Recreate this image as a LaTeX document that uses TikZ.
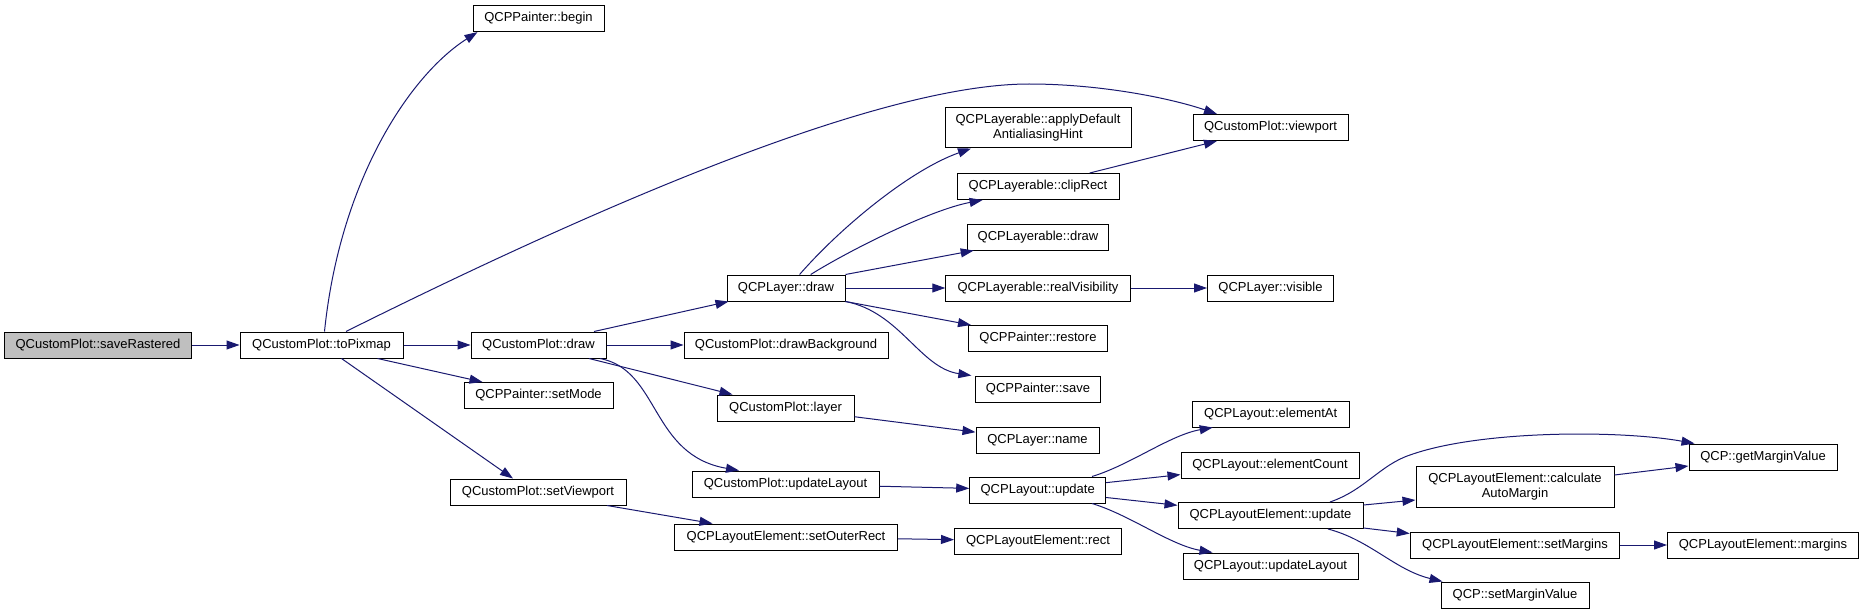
\documentclass[tikz,border=0pt]{standalone}
\usepackage{fontspec}
\setmainfont{Liberation Sans}
\usetikzlibrary{arrows.meta}
\definecolor{edgeblue}{HTML}{191970}
\definecolor{rootgray}{HTML}{BFBFBF}
\begin{document}
\begin{tikzpicture}[x=1pt,y=-1pt,
  box/.style={draw=black, line width=1pt, rectangle, inner sep=0pt, minimum height=26pt,
    font=\fontsize{13}{15}\selectfont, align=center, fill=white},
  e/.style={draw=edgeblue, line width=1pt, -{Triangle[length=13pt,width=9pt]}}]
\fill[white] (0,0) rectangle (1864,615);
\useasboundingbox (0,0) rectangle (1864,615);
% rank 0-1
\node[box, minimum width=187pt, fill=rootgray] (sr) at (98,345) {QCustomPlot::saveRastered};
\node[box, minimum width=163pt] (tp) at (321.5,345) {QCustomPlot::toPixmap};
% rank 2
\node[box, minimum width=131pt] (begin) at (538.5,18.6) {QCPPainter::begin};
\node[box, minimum width=135pt] (cpdraw) at (538.5,345) {QCustomPlot::draw};
\node[box, minimum width=149pt] (setMode) at (538.5,395.5) {QCPPainter::setMode};
\node[box, minimum width=176pt] (setViewport) at (538,492) {QCustomPlot::setViewport};
% rank 3
\node[box, minimum width=118pt] (ldraw) at (786,288) {QCPLayer::draw};
\node[box, minimum width=204pt] (drawBg) at (786,345) {QCustomPlot::drawBackground};
\node[box, minimum width=137pt] (layer) at (785.5,408) {QCustomPlot::layer};
\node[box, minimum width=187pt] (cpUpd) at (785.5,484) {QCustomPlot::updateLayout};
\node[box, minimum width=223pt] (setOuter) at (786,537) {QCPLayoutElement::setOuterRect};
% rank 4
\node[box, minimum width=186pt, minimum height=40pt] (applyDef) at (1038,128) {QCPLayerable::applyDefault\\AntialiasingHint};
\node[box, minimum width=162pt] (clipRect) at (1038,186.5) {QCPLayerable::clipRect};
\node[box, minimum width=141.5pt] (lbdraw) at (1038,237) {QCPLayerable::draw};
\node[box, minimum width=184.5pt] (realVis) at (1038,288) {QCPLayerable::realVisibility};
\node[box, minimum width=139.6pt] (restore) at (1038,338.5) {QCPPainter::restore};
\node[box, minimum width=125pt] (save) at (1038,389) {QCPPainter::save};
\node[box, minimum width=123pt] (name) at (1037.5,440) {QCPLayer::name};
\node[box, minimum width=136pt] (lupdate) at (1037.7,490) {QCPLayout::update};
\node[box, minimum width=167pt] (rect) at (1038,541) {QCPLayoutElement::rect};
% rank 5
\node[box, minimum width=155pt] (viewport) at (1270.5,127.5) {QCustomPlot::viewport};
\node[box, minimum width=126pt] (visible) at (1270.5,288) {QCPLayer::visible};
\node[box, minimum width=156.6pt] (elementAt) at (1270.7,414) {QCPLayout::elementAt};
\node[box, minimum width=178pt] (elementCount) at (1270,465) {QCPLayout::elementCount};
\node[box, minimum width=185pt] (leUpdate) at (1270.5,515.5) {QCPLayoutElement::update};
\node[box, minimum width=175pt] (lUpdLayout) at (1270.5,566) {QCPLayout::updateLayout};
% rank 6
\node[box, minimum width=198pt, minimum height=41pt] (calcAuto) at (1515,486.5) {QCPLayoutElement::calculate\\AutoMargin};
\node[box, minimum width=209.5pt] (setMargins) at (1515,545) {QCPLayoutElement::setMargins};
\node[box, minimum width=148pt] (setMarginValue) at (1515,595) {QCP::setMarginValue};
% rank 7
\node[box, minimum width=148pt] (getMargin) at (1763,457) {QCP::getMarginValue};
\node[box, minimum width=191pt] (margins) at (1763,545) {QCPLayoutElement::margins};
% edges
\draw[e] (sr) -- (tp);
\draw[e] ([xshift=3pt]tp.north) .. controls (340,180) and (410,75) .. ([xshift=5pt]begin.south west);
\draw[e] ([xshift=24.5pt]tp.north) .. controls (600,205) and (880,84) .. (1029,84)
   .. controls (1100,84) and (1170,98) .. ([xshift=-53.5pt]viewport.north);
\draw[e] (tp) -- (cpdraw);
\draw[e] ([xshift=56pt]tp.south) -- ([xshift=-56pt]setMode.north);
\draw[e] ([xshift=20pt]tp.south) -- ([xshift=-25pt]setViewport.north);
\draw[e] ([xshift=55.5pt]cpdraw.north) -- ([xshift=2pt]ldraw.south west);
\draw[e] (cpdraw) -- (drawBg);
\draw[e] ([xshift=50.5pt]cpdraw.south) -- ([xshift=-53pt]layer.north);
\draw[e] ([xshift=61.5pt]cpdraw.south) .. controls (660,370) and (650,455) .. ([xshift=-46.5pt]cpUpd.north);
\draw[e] ([xshift=69pt]setViewport.south) -- ([xshift=-73.5pt]setOuter.north);
\draw[e] ([xshift=13.6pt]ldraw.north) .. controls (840,228) and (910,170) .. ([xshift=-67pt]applyDef.south);
\draw[e] ([xshift=24.7pt]ldraw.north) .. controls (850,250) and (930,210) .. ([xshift=-55.4pt]clipRect.south);
\draw[e] (ldraw.north east) -- ([xshift=-64.3pt]lbdraw.south);
\draw[e] (ldraw) -- (realVis);
\draw[e] (ldraw.south east) -- ([xshift=-67pt]restore.north);
\draw[e] (ldraw.south east) .. controls (900,312) and (920,368) .. ([xshift=-66.6pt]save.north);
\draw[e] ([xshift=51.7pt]clipRect.north) -- ([xshift=-53.5pt]viewport.south);
\draw[e] (realVis) -- (visible);
\draw[e] (layer) -- (name);
\draw[e] (cpUpd) -- (lupdate);
\draw[e] (setOuter) -- (rect);
\draw[e] ([xshift=54.3pt]lupdate.north) .. controls (1130,465) and (1170,435) .. ([xshift=-58pt]elementAt.south);
\draw[e] (lupdate) -- (elementCount);
\draw[e] (lupdate) -- (leUpdate);
\draw[e] ([xshift=54.3pt]lupdate.south) .. controls (1130,515) and (1170,545) .. ([xshift=-58pt]lUpdLayout.north);
\draw[e] ([xshift=59.5pt]leUpdate.north) .. controls (1365,490) and (1380,465) .. (1410,455)
   .. controls (1480,430) and (1620,430) .. ([xshift=6pt]getMargin.north west);
\draw[e] ([yshift=10.5pt]leUpdate.east) -- ([yshift=-13.5pt]calcAuto.west);
\draw[e] ([yshift=1pt]leUpdate.south east) -- ([yshift=-2pt]setMargins.north west);
\draw[e] ([xshift=57.5pt]leUpdate.south) .. controls (1370,540) and (1395,570) .. ([xshift=2pt]setMarginValue.north west);
\draw[e] ([yshift=11.5pt]calcAuto.east) -- ([yshift=-9pt]getMargin.west);
\draw[e] (setMargins) -- (margins);
\end{tikzpicture}
\end{document}
